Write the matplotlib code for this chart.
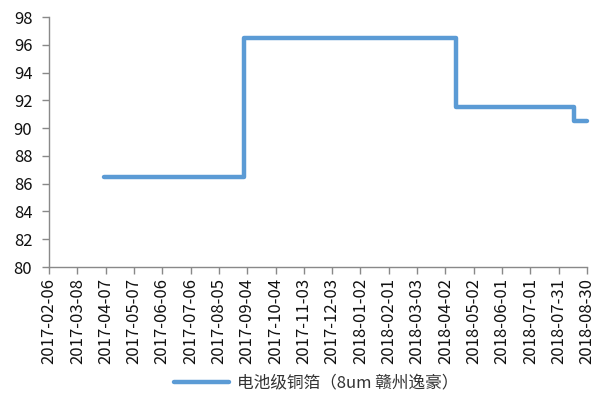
import matplotlib
matplotlib.use("Agg")
import matplotlib.pyplot as plt
import pandas as pd

plt.rcParams['font.family'] = ['Noto Sans CJK SC', 'DejaVu Sans']

# Price series (change points, held constant until the next date)
change_dates = ["2017-04-05", "2017-09-01", "2018-04-13", "2018-08-16", "2018-08-30"]
change_values = [86.5, 96.5, 91.5, 90.5, 90.5]
series_name = "电池级铜箔（8um 赣州逸豪）"

tick_start = "2017-02-06"
tick_end = "2018-08-30"
tick_step_days = 30

y_ticks = [80, 82, 84, 86, 88, 90, 92, 94, 96, 98]

dates = pd.to_datetime(change_dates)
tick_dates = pd.date_range(tick_start, tick_end, freq=f"{tick_step_days}D")

fig = plt.figure(figsize=(6.03, 3.95), dpi=100)
ax = fig.add_axes([49 / 603, 1 - 267 / 395, (587 - 49) / 603, (267 - 17) / 395])

ax.plot(dates, change_values, drawstyle="steps-post", color="#5B9BD5",
        linewidth=3.2, solid_capstyle="round", solid_joinstyle="round",
        label=series_name, clip_on=False)

ax.set_xlim(tick_dates[0], tick_dates[-1])
ax.set_ylim(80, 98)
ax.set_yticks(y_ticks)
ax.set_xticks(tick_dates)
ax.set_xticklabels([d.strftime("%Y-%m-%d") for d in tick_dates], rotation=90)

for side in ("top", "right"):
    ax.spines[side].set_visible(False)
for side in ("left", "bottom"):
    ax.spines[side].set_color("#898989")
    ax.spines[side].set_linewidth(1.0)
ax.tick_params(axis="both", colors="#898989", length=5, width=1.0,
               labelcolor="#111111", labelsize=12)
ax.tick_params(axis="x", pad=3)
ax.tick_params(axis="y", pad=7)

leg = fig.legend(loc="center", bbox_to_anchor=(316 / 603, 1 - 383 / 395), frameon=False,
                 fontsize=12, handlelength=3.3, handletextpad=0.5)
for t in leg.get_texts():
    t.set_color("#333333")

fig.savefig("out.png", dpi=100)
